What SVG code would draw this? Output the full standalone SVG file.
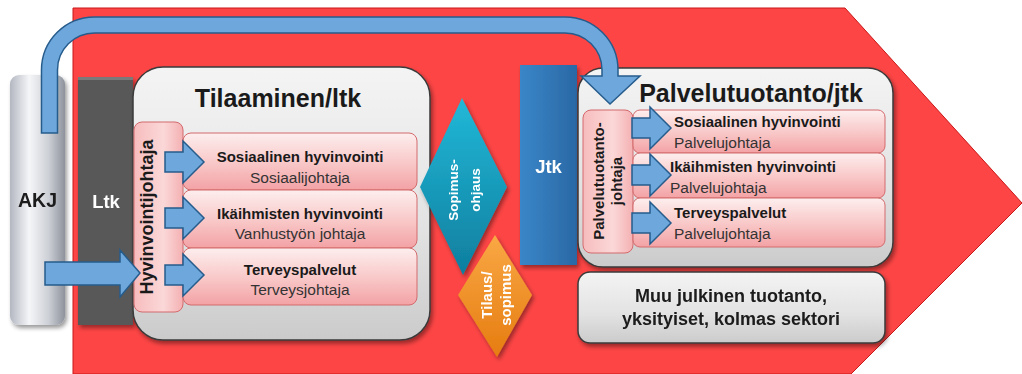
<svg xmlns="http://www.w3.org/2000/svg" width="1022" height="374" viewBox="0 0 1022 374">
<defs>
<linearGradient id="pink" x1="0" y1="0" x2="0" y2="1"><stop offset="0" stop-color="#fdeeee"/><stop offset="0.5" stop-color="#f9caca"/><stop offset="1" stop-color="#f3a2a5"/></linearGradient>
<linearGradient id="pinkV" x1="0" y1="0" x2="1" y2="0"><stop offset="0" stop-color="#f7bcbd"/><stop offset="0.6" stop-color="#fbd8d8"/><stop offset="1" stop-color="#f4b0b2"/></linearGradient>
<linearGradient id="gray" x1="0" y1="0" x2="0" y2="1"><stop offset="0" stop-color="#f4f4f4"/><stop offset="0.6" stop-color="#e2e2e2"/><stop offset="1" stop-color="#cbcbcb"/></linearGradient>
<linearGradient id="metal" x1="0" y1="0" x2="1" y2="0"><stop offset="0" stop-color="#b3b7c1"/><stop offset="0.35" stop-color="#f5f6f8"/><stop offset="0.7" stop-color="#cdd0d6"/><stop offset="1" stop-color="#8d929c"/></linearGradient>
<linearGradient id="blue" x1="0" y1="0" x2="1" y2="0"><stop offset="0" stop-color="#3a86c8"/><stop offset="1" stop-color="#2a68a5"/></linearGradient>
<linearGradient id="teal" x1="0" y1="0" x2="0" y2="1"><stop offset="0" stop-color="#22b8d8"/><stop offset="1" stop-color="#0f7e9e"/></linearGradient>
<linearGradient id="orange" x1="0" y1="0" x2="0" y2="1"><stop offset="0" stop-color="#f9a845"/><stop offset="1" stop-color="#e67c10"/></linearGradient>
<filter id="sh" x="-10%" y="-10%" width="130%" height="130%"><feDropShadow dx="2" dy="3" stdDeviation="2" flood-color="#000" flood-opacity="0.4"/></filter>
<path id="sarr" d="M0,-10 L18,-10 L18,-21 L39,0 L18,21 L18,10 L0,10 Z"/>
<style>
text{font-family:"Liberation Sans",Arial,sans-serif;fill:#1a1a1a}
.b{font-weight:bold}
.w{fill:#fff;font-weight:bold}
.row{fill:url(#pink);stroke:#d36a6d;stroke-width:1}
.gbox{fill:url(#gray);stroke:#3a3a3a;stroke-width:1.5}
.arr{fill:#6ea7dc;stroke:#265c8c;stroke-width:1.5;stroke-linejoin:miter}
.t1{font-size:15px;font-weight:bold}
.t2{font-size:15.5px;fill:#333}
.title{font-size:25px;font-weight:bold}
</style>
</defs>
<rect width="1022" height="374" fill="#fff"/>
<polygon id="bigArrow" points="73,8 845,8 1022,203 851,374 73,374" fill="#fd4545" stroke="#c81818" stroke-width="1"/>

<g id="akj" filter="url(#sh)">
<rect x="10" y="75" width="55" height="250" rx="9" fill="url(#metal)"/>
<text x="37.5" y="207" text-anchor="middle" class="b" font-size="19.5">AKJ</text>
</g>

<g id="ltk" filter="url(#sh)">
<rect x="78" y="77" width="55" height="248" fill="#595959"/>
<rect x="78" y="77" width="55" height="3" fill="#7a7a7a"/>
<text x="106" y="208" text-anchor="middle" class="w" font-size="18.5">Ltk</text>
</g>

<g id="tilaaminen">
<rect x="133" y="67" width="297" height="273" rx="30" class="gbox" filter="url(#sh)"/>
<text x="278" y="107" text-anchor="middle" class="title">Tilaaminen/ltk</text>
</g>

<g id="hyvinvointijohtaja">
<rect x="134" y="122" width="49" height="190" rx="8" fill="url(#pinkV)" stroke="#d36a6d" stroke-width="1"/>
<text transform="translate(153,217) rotate(-90)" text-anchor="middle" class="b" font-size="18">Hyvinvointijohtaja</text>
</g>

<g id="sosiaalinen-l">
<rect x="183" y="133" width="234" height="57" rx="8" class="row"/>
<text x="300" y="162" text-anchor="middle" class="t1">Sosiaalinen hyvinvointi</text>
<text x="300" y="183" text-anchor="middle" class="t2">Sosiaalijohtaja</text>
</g>
<g id="ikaihmisten-l">
<rect x="183" y="190" width="234" height="58" rx="8" class="row"/>
<text x="300" y="219" text-anchor="middle" class="t1">Ikäihmisten hyvinvointi</text>
<text x="300" y="239" text-anchor="middle" class="t2">Vanhustyön johtaja</text>
</g>
<g id="terveys-l">
<rect x="183" y="248" width="234" height="57" rx="8" class="row"/>
<text x="300" y="275" text-anchor="middle" class="t1">Terveyspalvelut</text>
<text x="300" y="295" text-anchor="middle" class="t2">Terveysjohtaja</text>
</g>

<g id="tilaus" filter="url(#sh)">
<polygon points="495,235 532,295 497,357 458,295" fill="url(#orange)"/>
<text transform="translate(495,295) rotate(-90)" text-anchor="middle" class="w" font-size="15"><tspan x="0" y="-3">Tilaus/</tspan><tspan x="0" y="16">sopimus</tspan></text>
</g>

<g id="sopimus" filter="url(#sh)">
<polygon points="462,98 507,187 463,275 420,187" fill="url(#teal)"/>
<text transform="translate(464,190) rotate(-90)" text-anchor="middle" class="w" font-size="13.5"><tspan x="0" y="-6">Sopimus-</tspan><tspan x="0" y="16">ohjaus</tspan></text>
</g>

<g id="jtk" filter="url(#sh)">
<rect x="520" y="65" width="57" height="200" fill="url(#blue)"/>
<text x="548.5" y="173" text-anchor="middle" class="w" font-size="18.5">Jtk</text>
</g>

<g id="palvelutuotanto">
<rect x="578" y="68" width="315" height="199" rx="25" class="gbox" filter="url(#sh)"/>
<text x="751" y="102" text-anchor="middle" class="title">Palvelutuotanto/jtk</text>
</g>

<g id="palvelutuotantojohtaja">
<rect x="583" y="110" width="50" height="143" rx="8" fill="url(#pinkV)" stroke="#d36a6d" stroke-width="1"/>
<text transform="translate(608,181) rotate(-90)" text-anchor="middle" class="b" font-size="15"><tspan x="0" y="-4">Palvelutuotanto-</tspan><tspan x="0" y="14">johtaja</tspan></text>
</g>

<g id="sosiaalinen-r">
<rect x="633" y="110" width="252" height="43" rx="7" class="row"/>
<text x="674" y="127" class="t1">Sosiaalinen hyvinvointi</text>
<text x="674" y="148" class="t2">Palvelujohtaja</text>
</g>
<g id="ikaihmisten-r">
<rect x="633" y="153" width="252" height="45" rx="7" class="row"/>
<text x="670" y="172" class="t1">Ikäihmisten hyvinvointi</text>
<text x="670" y="193" class="t2">Palvelujohtaja</text>
</g>
<g id="terveys-r">
<rect x="633" y="198" width="252" height="49" rx="7" class="row"/>
<text x="674" y="218" class="t1">Terveyspalvelut</text>
<text x="674" y="239" class="t2">Palvelujohtaja</text>
</g>

<g id="muu" filter="url(#sh)">
<rect x="578" y="272" width="307" height="71" rx="12" class="gbox"/>
<text x="731" y="302" text-anchor="middle" class="b" font-size="18">Muu julkinen tuotanto,</text>
<text x="731" y="325" text-anchor="middle" class="b" font-size="18">yksityiset, kolmas sektori</text>
</g>

<g id="connectors">
<path class="arr" d="M41.5,133 L41.5,70 A53,53 0 0 1 94.5,17 L565,17 A53,53 0 0 1 618,70 L618,76 L640,76 L610,104 L581,76 L602,76 L602,70 A37,37 0 0 0 565,33 L94.5,33 A37,37 0 0 0 57.5,70 L57.5,133 Z"/>
<path class="arr" d="M45,262 L120,262 L120,250 L140,273 L120,297 L120,285 L45,285 Z"/>
<use href="#sarr" class="arr" transform="translate(165,162)"/>
<use href="#sarr" class="arr" transform="translate(165,218)"/>
<use href="#sarr" class="arr" transform="translate(165,275)"/>
<use href="#sarr" class="arr" transform="translate(632,128)"/>
<use href="#sarr" class="arr" transform="translate(632,175)"/>
<use href="#sarr" class="arr" transform="translate(632,223)"/>
</g>
</svg>
